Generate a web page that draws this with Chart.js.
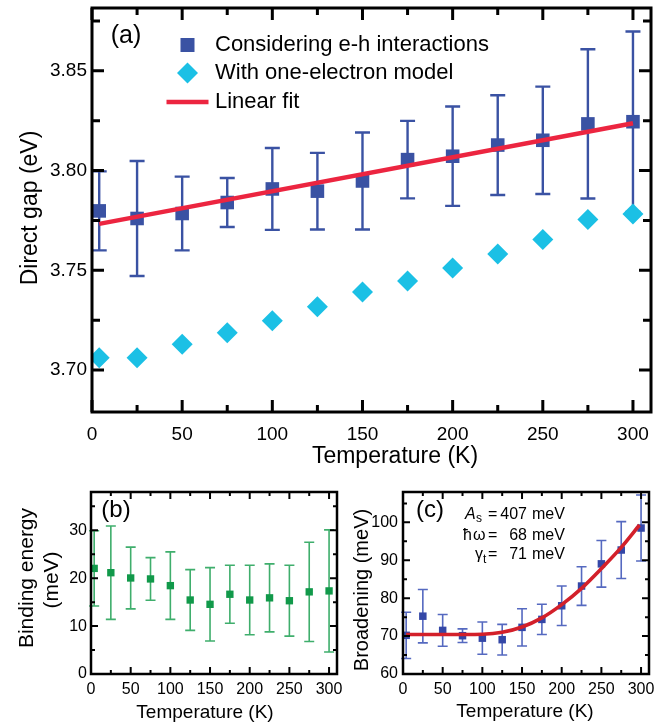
<!DOCTYPE html>
<html>
<head>
<meta charset="utf-8">
<title>Direct gap, binding energy and broadening vs temperature</title>
<script src="https://cdn.jsdelivr.net/npm/chart.js@4.4.1/dist/chart.umd.min.js"></script>
<style>
  html, body { margin: 0; padding: 0; background: #fff; }
  #wrap { position: relative; width: 669px; height: 724px; overflow: hidden; background: #fff; }
  canvas { position: absolute; }
</style>
</head>
<body>
<div id="wrap">
  <canvas id="gapChart" width="669" height="480" style="left:0;top:0;width:669px;height:480px"></canvas>
  <canvas id="bindChart" width="346" height="244" style="left:0;top:480px;width:346px;height:244px"></canvas>
  <canvas id="broadChart" width="323" height="244" style="left:346px;top:480px;width:323px;height:244px"></canvas>
</div>
<script>
const FONT = "'Liberation Sans', Arial, Helvetica, sans-serif";

// ---- shared temperature grid (K) ----
const temperatureK = [4, 25, 50, 75, 100, 125, 150, 175, 200, 225, 250, 275, 300];
const tempTicks = [0, 50, 100, 150, 200, 250, 300];
const tempMinorTicks = [25, 75, 125, 175, 225, 275];

// ---- (a) direct gap (eV) ----
const gapExcitonic    = [3.7798, 3.7760, 3.7785, 3.7840, 3.7908, 3.7897, 3.7948, 3.8055, 3.8072, 3.8128, 3.8152, 3.8234, 3.8245];
const gapExcitonicErr = [0.0198, 0.0288, 0.0185, 0.0123, 0.0205, 0.0192, 0.0243, 0.0194, 0.0249, 0.0250, 0.0269, 0.0374, 0.0452];
const gapOneElectron  = [3.7062, 3.7062, 3.7130, 3.7187, 3.7247, 3.7318, 3.7392, 3.7447, 3.7512, 3.7582, 3.7655, 3.7755, 3.7783];
const gapFitT   = [4, 300];
const gapFit    = [3.7733, 3.8237];
const gapTicks      = [3.70, 3.75, 3.80, 3.85];
const gapMinorTicks = [3.725, 3.775, 3.825, 3.875];

// ---- (b) exciton binding energy (meV) ----
const bindingEnergy    = [22.05, 21.15, 20.05, 19.85, 18.45, 15.45, 14.55, 16.65, 15.45, 15.9, 15.3, 17.15, 17.35];
const bindingEnergyErr = [7.85, 9.75, 6.45, 4.45, 7.05, 6.35, 7.65, 6.05, 7.25, 7.1, 7.4, 10.35, 12.75];
const bindTicks      = [0, 10, 20, 30];
const bindMinorTicks = [5, 15, 25, 35];

// ---- (c) broadening (meV) ----
const broadening    = [70.2, 75.25, 71.5, 70.1, 69.45, 69.05, 72.3, 74.4, 78.0, 83.2, 89.05, 92.7, 98.5];
const broadeningErr = [6.1, 7.05, 4.2, 1.8, 4.25, 4.05, 4.9, 4.0, 5.2, 5.1, 6.15, 7.5, 8.7];
const broadFitT = [4, 50, 100, 125, 150, 175, 200, 225, 250, 275, 298];
const broadFit  = [70.4, 70.4, 70.5, 71.0, 72.4, 74.8, 78.3, 82.6, 87.8, 93.4, 99.3];
const broadTicks      = [60, 70, 80, 90, 100];
const broadMinorTicks = [65, 75, 85, 95, 105];

// ---- colours ----
const BLUE = '#3a52a3';
const CYAN = '#1bc0e5';
const RED  = '#ec2540';
const GREEN = '#11994a';
const GREEN_BAR = '#3fae6c';
const BLUE_C = '#3447a7';
const BLUE_C_BAR = '#5569c0';
const RED_C = '#d3202a';

const pts = (xs, ys) => xs.map((x, i) => ({ x, y: ys[i] }));

// vertical error bars with caps, drawn under the markers
const errorBars = {
  id: 'errorBars',
  beforeDatasetsDraw(chart, args, opts) {
    const { ctx, scales: { x, y } } = chart;
    (opts.sets || []).forEach(s => {
      ctx.save();
      ctx.strokeStyle = s.color;
      ctx.lineWidth = s.width;
      s.x.forEach((t, i) => {
        const px = x.getPixelForValue(t);
        const top = y.getPixelForValue(s.y[i] + s.err[i]);
        const bot = y.getPixelForValue(s.y[i] - s.err[i]);
        ctx.beginPath();
        ctx.moveTo(px, top); ctx.lineTo(px, bot);
        ctx.moveTo(px - s.cap, top); ctx.lineTo(px + s.cap, top);
        ctx.moveTo(px - s.cap, bot); ctx.lineTo(px + s.cap, bot);
        ctx.stroke();
      });
      ctx.restore();
    });
  }
};

// closed frame with inward tick marks on all four sides
const frameTicks = {
  id: 'frameTicks',
  afterDraw(chart, args, o) {
    const { ctx, chartArea: a, scales: { x, y } } = chart;
    ctx.save();
    ctx.strokeStyle = '#000';
    ctx.lineWidth = o.tickWidth;
    ctx.beginPath();
    const xt = (vals, len) => vals.forEach(v => {
      const p = x.getPixelForValue(v);
      ctx.moveTo(p, a.bottom); ctx.lineTo(p, a.bottom - len);
      ctx.moveTo(p, a.top); ctx.lineTo(p, a.top + len);
    });
    const yt = (vals, len) => vals.forEach(v => {
      const p = y.getPixelForValue(v);
      if (p < a.top - 0.5 || p > a.bottom + 0.5) return;
      ctx.moveTo(a.left, p); ctx.lineTo(a.left + len, p);
      ctx.moveTo(a.right, p); ctx.lineTo(a.right - len, p);
    });
    xt(o.xMajor, o.xMajorLen); xt(o.xMinor, o.xMinorLen);
    yt(o.yMajor, o.yMajorLen); yt(o.yMinor, o.yMinorLen);
    ctx.stroke();
    ctx.lineWidth = o.frameWidth;
    ctx.strokeRect(a.left, a.top, a.right - a.left, a.bottom - a.top);
    ctx.restore();
  }
};

// free text: panel letters, axis titles, fit parameters
const captions = {
  id: 'captions',
  afterDraw(chart, args, opts) {
    const ctx = chart.ctx;
    (opts.items || []).forEach(it => {
      ctx.save();
      ctx.font = `${it.style || ''} ${it.size}px ${FONT}`;
      ctx.fillStyle = '#000';
      ctx.textAlign = it.align || 'center';
      ctx.textBaseline = it.baseline || 'middle';
      ctx.translate(it.x, it.y);
      if (it.rotate) ctx.rotate(it.rotate);
      ctx.fillText(it.text, 0, 0);
      ctx.restore();
    });
  }
};

// legend of panel (a)
const keyBox = {
  id: 'keyBox',
  afterDraw(chart, args, o) {
    if (!o.items) return;
    const ctx = chart.ctx;
    ctx.save();
    o.items.forEach(it => {
      if (it.kind === 'rect') {
        ctx.fillStyle = it.color;
        ctx.fillRect(o.markX - it.size / 2, it.y - it.size / 2, it.size, it.size);
      } else if (it.kind === 'diamond') {
        ctx.fillStyle = it.color;
        ctx.beginPath();
        ctx.moveTo(o.markX - it.r, it.y); ctx.lineTo(o.markX, it.y - it.r);
        ctx.lineTo(o.markX + it.r, it.y); ctx.lineTo(o.markX, it.y + it.r);
        ctx.closePath(); ctx.fill();
      } else {
        ctx.strokeStyle = it.color;
        ctx.lineWidth = it.width;
        ctx.beginPath();
        ctx.moveTo(o.markX - it.half, it.y); ctx.lineTo(o.markX + it.half, it.y);
        ctx.stroke();
      }
      ctx.fillStyle = '#000';
      ctx.font = `${o.size}px ${FONT}`;
      ctx.textAlign = 'left';
      ctx.textBaseline = 'middle';
      ctx.fillText(it.text, o.textX, it.y);
    });
    ctx.restore();
  }
};

Chart.register(errorBars, frameTicks, captions, keyBox);

function tempAxis(size, pad, height) {
  return {
    type: 'linear', min: 0, max: 310,
    grid: { display: false, drawTicks: false },
    border: { display: false },
    afterBuildTicks: s => { s.ticks = tempTicks.map(v => ({ value: v })); },
    afterFit: s => { s.height = height; s.paddingLeft = 0; s.paddingRight = 0; },
    ticks: { font: { family: FONT, size }, color: '#000', padding: pad, maxRotation: 0, autoSkip: false,
             callback: v => String(v) }
  };
}
function valueAxis(min, max, ticks, digits, size, pad, width) {
  return {
    type: 'linear', min, max,
    grid: { display: false, drawTicks: false },
    border: { display: false },
    afterBuildTicks: s => { s.ticks = ticks.map(v => ({ value: v })); },
    afterFit: s => { s.width = width; s.paddingTop = 0; s.paddingBottom = 0; },
    ticks: { font: { family: FONT, size }, color: '#000', padding: pad, autoSkip: false,
             callback: v => Number(v).toFixed(digits) }
  };
}
const common = {
  responsive: false, animation: false, events: [],
  layout: { autoPadding: false }
};

// ---------- (a) ----------
new Chart(document.getElementById('gapChart'), {
  type: 'scatter',
  data: {
    datasets: [
      { label: 'Linear fit', type: 'line', data: pts(gapFitT, gapFit), showLine: true,
        borderColor: RED, borderWidth: 4.5, pointRadius: 0, order: 0 },
      { label: 'Considering e-h interactions', data: pts(temperatureK, gapExcitonic),
        pointStyle: 'rect', pointRadius: 9.6, backgroundColor: BLUE, pointBorderWidth: 0, borderWidth: 0, order: 1 },
      { label: 'With one-electron model', data: pts(temperatureK, gapOneElectron),
        pointStyle: 'rectRot', pointRadius: 10.5, backgroundColor: CYAN, pointBorderWidth: 0, borderWidth: 0, order: 2 }
    ]
  },
  options: {
    ...common,
    layout: { autoPadding: false, padding: { top: 8, right: 18, left: 0, bottom: 0 } },
    scales: {
      x: tempAxis(19, 11, 68),
      y: valueAxis(3.679, 3.8815, gapTicks, 2, 19, 5, 92)
    },
    plugins: {
      legend: { display: false }, tooltip: { enabled: false },
      errorBars: { sets: [{ x: temperatureK, y: gapExcitonic, err: gapExcitonicErr, color: BLUE, width: 2.4, cap: 7.5 }] },
      frameTicks: { xMajor: tempTicks, xMinor: tempMinorTicks, yMajor: gapTicks, yMinor: gapMinorTicks,
                    xMajorLen: 12, xMinorLen: 7, yMajorLen: 12, yMinorLen: 8, tickWidth: 3, frameWidth: 3 },
      captions: { items: [
        { text: '(a)', x: 126, y: 36, size: 25 },
        { text: 'Temperature (K)', x: 395, y: 457, size: 23 },
        { text: 'Direct gap (eV)', x: 31, y: 208, size: 23, rotate: -Math.PI / 2 }
      ] },
      keyBox: { markX: 187.5, textX: 215, size: 22, items: [
        { kind: 'rect', size: 14, y: 45, color: BLUE, text: 'Considering e-h interactions' },
        { kind: 'diamond', r: 10.5, y: 73, color: CYAN, text: 'With one-electron model' },
        { kind: 'line', half: 21, width: 4.5, y: 102, color: RED, text: 'Linear fit' }
      ] }
    }
  }
});

// ---------- (b) ----------
new Chart(document.getElementById('bindChart'), {
  type: 'scatter',
  data: {
    datasets: [
      { label: 'Binding energy', data: pts(temperatureK, bindingEnergy),
        pointStyle: 'rect', pointRadius: 5.2, backgroundColor: GREEN, pointBorderWidth: 0, borderWidth: 0 }
    ]
  },
  options: {
    ...common,
    layout: { autoPadding: false, padding: { top: 12, right: 9, left: 0, bottom: 0 } },
    scales: {
      x: tempAxis(16, 6, 50),
      y: valueAxis(0, 38, bindTicks, 0, 16, 4, 91)
    },
    plugins: {
      legend: { display: false }, tooltip: { enabled: false },
      errorBars: { sets: [{ x: temperatureK, y: bindingEnergy, err: bindingEnergyErr, color: GREEN_BAR, width: 1.6, cap: 5 }] },
      frameTicks: { xMajor: tempTicks, xMinor: tempMinorTicks, yMajor: bindTicks, yMinor: bindMinorTicks,
                    xMajorLen: 7, xMinorLen: 4, yMajorLen: 7, yMinorLen: 4, tickWidth: 2, frameWidth: 2.5 },
      captions: { items: [
        { text: '(b)', x: 116, y: 30, size: 24 },
        { text: 'Temperature (K)', x: 205, y: 233, size: 19 },
        { text: 'Binding energy', x: 27, y: 98, size: 21, rotate: -Math.PI / 2 },
        { text: '(meV)', x: 52, y: 100, size: 21, rotate: -Math.PI / 2 }
      ] }
    }
  }
});

// ---------- (c) ----------
new Chart(document.getElementById('broadChart'), {
  type: 'scatter',
  data: {
    datasets: [
      { label: 'Fit', type: 'line', data: pts(broadFitT, broadFit), showLine: true,
        cubicInterpolationMode: 'monotone', borderColor: RED_C, borderWidth: 3.6, pointRadius: 0, order: 0 },
      { label: 'Broadening', data: pts(temperatureK, broadening),
        pointStyle: 'rect', pointRadius: 5.3, backgroundColor: BLUE_C, pointBorderWidth: 0, borderWidth: 0, order: 1 }
    ]
  },
  options: {
    ...common,
    layout: { autoPadding: false, padding: { top: 12, right: 20, left: 0, bottom: 0 } },
    scales: {
      x: tempAxis(16, 6, 50),
      y: valueAxis(60, 108, broadTicks, 0, 16, 5, 57)
    },
    plugins: {
      legend: { display: false }, tooltip: { enabled: false },
      errorBars: { sets: [{ x: temperatureK, y: broadening, err: broadeningErr, color: BLUE_C_BAR, width: 1.6, cap: 5 }] },
      frameTicks: { xMajor: tempTicks, xMinor: tempMinorTicks, yMajor: broadTicks, yMinor: broadMinorTicks,
                    xMajorLen: 7, xMinorLen: 4, yMajorLen: 7, yMinorLen: 4, tickWidth: 2, frameWidth: 2.5 },
      captions: { items: [
        { text: '(c)', x: 84, y: 30, size: 24 },
        { text: 'Temperature (K)', x: 179, y: 232, size: 19 },
        { text: 'Broadening (meV)', x: 16, y: 110, size: 20, rotate: -Math.PI / 2 },
        { text: 'A', x: 119, y: 39, size: 16, style: 'italic', align: 'left', baseline: 'alphabetic' },
        { text: 's', x: 130, y: 42, size: 12, align: 'left', baseline: 'alphabetic' },
        { text: '=', x: 142, y: 39, size: 16, align: 'left', baseline: 'alphabetic' },
        { text: '407', x: 181, y: 39, size: 16, align: 'right', baseline: 'alphabetic' },
        { text: 'meV', x: 186, y: 39, size: 16, align: 'left', baseline: 'alphabetic' },
        { text: 'ħ', x: 117, y: 60, size: 16, align: 'left', baseline: 'alphabetic' },
        { text: 'ω', x: 127, y: 60, size: 16, align: 'left', baseline: 'alphabetic' },
        { text: '=', x: 142, y: 60, size: 16, align: 'left', baseline: 'alphabetic' },
        { text: '68', x: 181, y: 60, size: 16, align: 'right', baseline: 'alphabetic' },
        { text: 'meV', x: 186, y: 60, size: 16, align: 'left', baseline: 'alphabetic' },
        { text: 'γ', x: 129, y: 79, size: 16, align: 'left', baseline: 'alphabetic' },
        { text: 't', x: 137, y: 83, size: 12, align: 'left', baseline: 'alphabetic' },
        { text: '=', x: 142, y: 79, size: 16, align: 'left', baseline: 'alphabetic' },
        { text: '71', x: 181, y: 79, size: 16, align: 'right', baseline: 'alphabetic' },
        { text: 'meV', x: 186, y: 79, size: 16, align: 'left', baseline: 'alphabetic' }
      ] }
    }
  }
});
</script>
</body>
</html>
